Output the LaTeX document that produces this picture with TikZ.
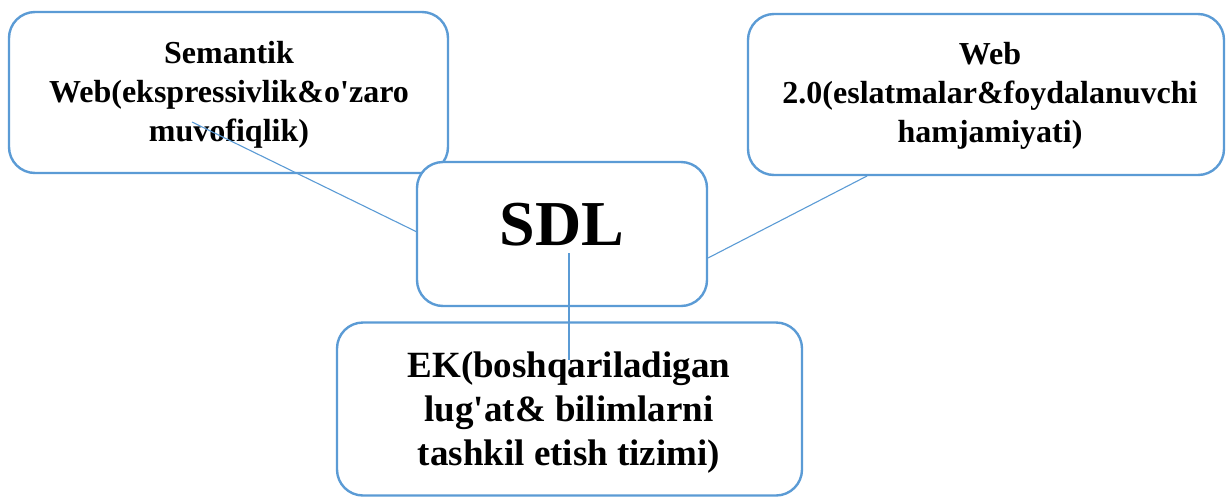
\documentclass[tikz,border=0pt]{standalone}
\usepackage{fontspec}
\setmainfont{Liberation Serif}
\definecolor{boxblue}{HTML}{5B9BD5}
\begin{document}
\begin{tikzpicture}[x=1pt,y=-1pt,
  box/.style={draw=boxblue,line width=2.4pt,rounded corners=26pt,fill=white,inner sep=0pt},
  conn/.style={draw=boxblue,line width=1.1pt},
  txt/.style={align=center,inner sep=0pt,font=\bfseries}]
\useasboundingbox (0,0) rectangle (1229,496);
% boxes
\node[box,minimum width=439pt,minimum height=161pt] (A) at (228.5,92.5) {};
\node[box,minimum width=476pt,minimum height=161pt] (B) at (986,94.5) {};
\node[box,minimum width=290pt,minimum height=144pt] (C) at (562,234) {};
\node[box,minimum width=465pt,minimum height=173pt] (D) at (569.5,409) {};
% texts
\node[txt,font=\bfseries\fontsize{32}{39}\selectfont] (tA) at (229,95) {Semantik\\Web(ekspressivlik\&o\textquotesingle zaro\\muvofiqlik)};
\node[txt,font=\bfseries\fontsize{32}{39}\selectfont] (tB) at (990,96) {Web\\2.0(eslatmalar\&foydalanuvchi\\hamjamiyati)};
\node[txt,font=\bfseries\fontsize{64}{70}\selectfont,anchor=base] (tC) at (562,245) {SDL};
\node[txt,font=\bfseries\fontsize{37}{44}\selectfont] (tD) at (569,413) {EK(boshqariladigan\\lug\textquotesingle at\& bilimlarni\\tashkil etish tizimi)};
% connectors
\coordinate (a1) at (192,122);
\coordinate (c1) at (417,232);
\coordinate (b1) at (867,176);
\coordinate (c2) at (708,258);
\coordinate (c3) at (569,253);
\coordinate (d1) at (569,360);
\draw[conn] (a1) -- (c1);
\draw[conn] (b1) -- (c2);
\draw[conn] (c3) -- (d1);
\end{tikzpicture}
\end{document}
